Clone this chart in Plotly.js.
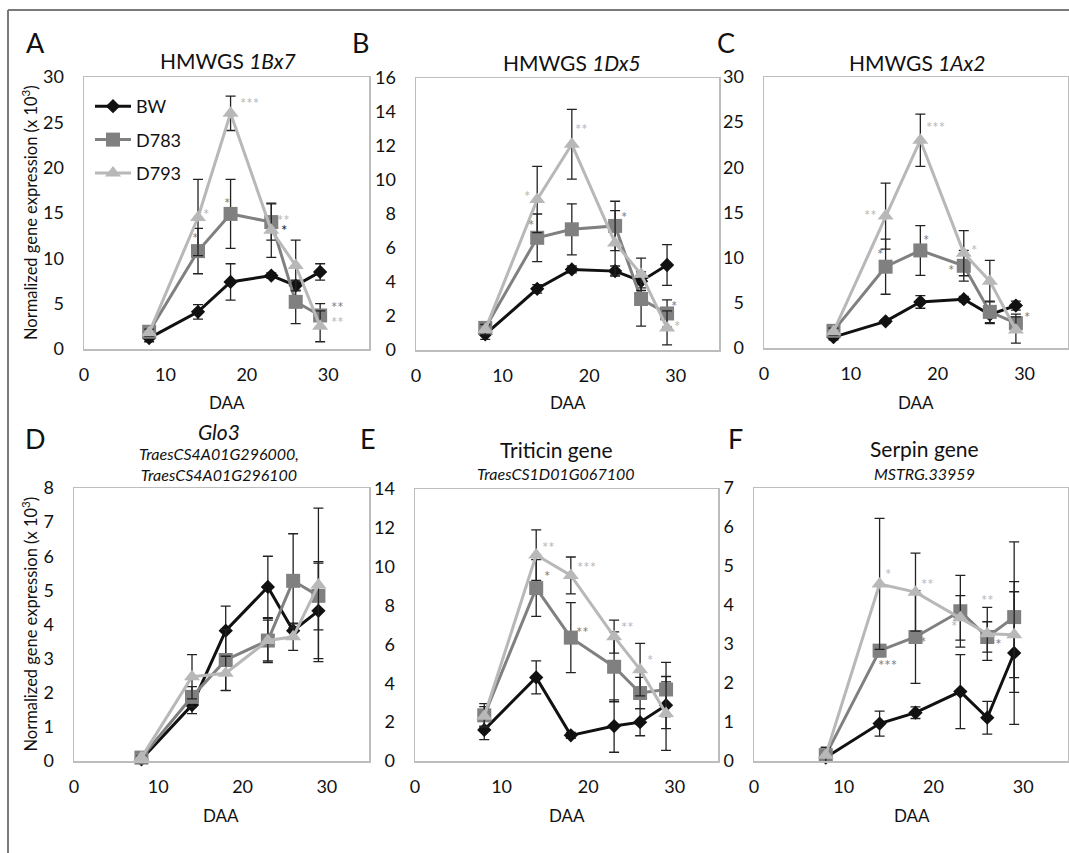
<!DOCTYPE html>
<html>
<head>
<meta charset="utf-8">
<script src="https://cdn.plot.ly/plotly-3.0.1.min.js"></script>
<style>
  html, body { margin: 0; padding: 0; background: #fff; }
  #chart { width: 1069px; height: 853px; }
</style>
</head>
<body>
<div id="chart"></div>
<script>
// Sampling days (days after anthesis)
const daa = [8, 14, 18, 23, 26, 29];
const seriesNames = ['BW', 'D783', 'D793'];

// Panel A: HMWGS 1Bx7
const a_BW = [1.2, 4.1, 7.4, 8.1, 7.0, 8.5];
const a_BW_err = [0.4, 0.8, 2.0, 0.3, 0.5, 0.9];
const a_D783 = [1.9, 10.8, 14.9, 14.0, 5.2, 3.7];
const a_D783_err = [0.5, 2.5, 3.8, 2.0, 2.4, 1.3];
const a_D793 = [1.8, 14.5, 26.0, 13.1, 9.2, 2.5];
const a_D793_err = [0.4, 4.2, 1.9, 3.0, 2.8, 1.7];

// Panel B: HMWGS 1Dx5
const b_BW = [0.92, 3.6, 4.74, 4.64, 4.05, 5.0];
const b_BW_err = [0.3, 0.25, 0.2, 0.3, 0.4, 1.2];
const b_D783 = [1.3, 6.6, 7.1, 7.3, 3.0, 2.15];
const b_D783_err = [0.3, 1.4, 1.5, 1.45, 1.6, 0.8];
const b_D793 = [1.2, 8.85, 12.1, 6.3, 4.45, 1.3];
const b_D793_err = [0.3, 1.95, 2.05, 1.9, 0.95, 1.0];

// Panel C: HMWGS 1Ax2
const c_BW = [1.2, 2.95, 5.1, 5.4, 3.7, 4.7];
const c_BW_err = [0.3, 0.2, 0.7, 0.3, 1.0, 0.5];
const c_D783 = [1.9, 9.0, 10.8, 9.1, 4.0, 2.75];
const c_D783_err = [0.6, 3.05, 2.75, 1.7, 1.2, 1.0];
const c_D793 = [1.8, 14.6, 23.0, 10.5, 7.4, 2.0];
const c_D793_err = [0.4, 3.65, 2.9, 2.5, 2.3, 1.45];

// Panel D: Glo3
const d_BW = [0.05, 1.64, 3.82, 5.1, 3.82, 4.4];
const d_BW_err = [0.05, 0.25, 0.72, 0.9, 0.2, 1.4];
const d_D783 = [0.1, 1.88, 2.96, 3.53, 5.28, 4.84];
const d_D783_err = [0.05, 0.3, 0.9, 0.65, 1.38, 1.0];
const d_D793 = [0.1, 2.47, 2.57, 3.53, 3.64, 5.16];
const d_D793_err = [0.05, 0.65, 0.5, 0.6, 0.4, 2.25];

// Panel E: Triticin gene
const e_BW = [1.6, 4.3, 1.32, 1.8, 2.0, 2.87];
const e_BW_err = [0.5, 0.85, 0.15, 1.35, 0.7, 1.2];
const e_D783 = [2.35, 8.9, 6.35, 4.85, 3.5, 3.68];
const e_D783_err = [0.6, 1.46, 1.8, 1.8, 0.8, 1.4];
const e_D793 = [2.3, 10.6, 9.55, 6.4, 4.7, 2.45];
const e_D793_err = [0.5, 1.3, 0.95, 0.85, 1.35, 1.9];

// Panel F: Serpin gene
const f_BW = [0.09, 0.96, 1.24, 1.78, 1.11, 2.77];
const f_BW_err = [0.1, 0.32, 0.15, 0.95, 0.42, 1.83];
const f_D783 = [0.15, 2.83, 3.18, 3.84, 3.18, 3.69];
const f_D783_err = [0.2, 0.15, 1.19, 0.92, 0.39, 1.93];
const f_D793 = [0.15, 4.54, 4.33, 3.67, 3.26, 3.24];
const f_D793_err = [0.2, 1.68, 1.0, 0.57, 0.68, 1.1];

// Significance marks: x, y, text, series index (0 BW, 1 D783, 2 D793)
const a_sigX = [20.3, 15.0, 13.6, 17.5, 24.5, 24.6, 31.1, 31.1];
const a_sigY = [27.1, 14.9, 12.2, 16.1, 14.25, 13.1, 4.65, 3.0];
const a_sigT = ['***', '*', '*', '*', '**', '*', '**', '**'];
const a_sigS = [2, 2, 1, 1, 2, 0, 1, 2];

const b_sigX = [19.1, 12.8, 13.3, 24.0, 29.8, 30.2];
const b_sigY = [13.0, 9.05, 7.35, 7.8, 2.6, 1.4];
const b_sigT = ['**', '*', '*', '*', '*', '*'];
const b_sigS = [2, 2, 1, 1, 1, 2];

const c_sigX = [19.7, 12.3, 13.3, 18.6, 24.2, 21.5, 30.3];
const c_sigY = [24.5, 14.7, 10.4, 11.9, 10.8, 8.6, 3.4];
const c_sigT = ['***', '**', '*', '*', '*', '*', '*'];
const c_sigS = [2, 2, 1, 1, 2, 1, 1];

const d_sigX = [];
const d_sigY = [];
const d_sigT = [];
const d_sigS = [];

const e_sigX = [15.4, 15.3, 19.8, 19.4, 24.6, 27.2];
const e_sigY = [11.0, 9.5, 10.0, 6.65, 6.9, 5.2];
const e_sigT = ['**', '*', '***', '**', '**', '*'];
const e_sigS = [2, 1, 2, 1, 2, 2];

const f_sigX = [14.9, 14.9, 19.3, 18.8, 22.3, 26.0, 26.9];
const f_sigY = [4.8, 2.47, 4.55, 3.04, 3.45, 4.14, 3.0];
const f_sigT = ['*', '***', '**', '*', '*', '**', '**'];
const f_sigS = [2, 1, 2, 1, 2, 2, 1];

// Axis tick settings
const xTicks = [0, 10, 20, 30];
const yMax = [30, 16, 30, 8, 14, 7];
const yStep = [5, 2, 5, 1, 2, 1];

// Panel captions
const panelLetters = ['A', 'B', 'C', 'D', 'E', 'F'];
const panelTitles = ['HMWGS <i>1Bx7</i>', 'HMWGS <i>1Dx5</i>', 'HMWGS <i>1Ax2</i>',
                     '<i>Glo3</i>', 'Triticin gene', 'Serpin gene'];
const panelSubtitles = ['', '', '',
                        '<i>TraesCS4A01G296000,</i><br><i>TraesCS4A01G296100</i>',
                        '<i>TraesCS1D01G067100</i>', '<i>MSTRG.33959</i>'];
const xTitle = 'DAA';
const yTitle = 'Normalized gene expression (x 10<sup>3</sup>)';

const W = 1069, H = 853;
// plot boxes in pixels: [left, right, top, bottom]
const boxes = [
  [84, 369, 77, 349],
  [416, 719, 78, 350],
  [764, 1068, 77, 348],
  [74, 369, 488, 761],
  [415, 718, 489, 761],
  [754, 1068, 488, 761]
];

const colors = ['#111111', '#808080', '#b8b8b8'];
const symbols = ['diamond', 'square', 'triangle-up'];
const sizes = [11, 14, 14];

const panelData = [
  [[a_BW, a_BW_err], [a_D783, a_D783_err], [a_D793, a_D793_err]],
  [[b_BW, b_BW_err], [b_D783, b_D783_err], [b_D793, b_D793_err]],
  [[c_BW, c_BW_err], [c_D783, c_D783_err], [c_D793, c_D793_err]],
  [[d_BW, d_BW_err], [d_D783, d_D783_err], [d_D793, d_D793_err]],
  [[e_BW, e_BW_err], [e_D783, e_D783_err], [e_D793, e_D793_err]],
  [[f_BW, f_BW_err], [f_D783, f_D783_err], [f_D793, f_D793_err]]
];
const panelSig = [
  [a_sigX, a_sigY, a_sigT, a_sigS],
  [b_sigX, b_sigY, b_sigT, b_sigS],
  [c_sigX, c_sigY, c_sigT, c_sigS],
  [d_sigX, d_sigY, d_sigT, d_sigS],
  [e_sigX, e_sigY, e_sigT, e_sigS],
  [f_sigX, f_sigY, f_sigT, f_sigS]
];

const FONT = 'Lato, "Open Sans", sans-serif';
const traces = [];
const annotations = [];
const layout = {
  width: W, height: H,
  margin: {l: 0, r: 0, t: 0, b: 0},
  paper_bgcolor: '#ffffff',
  plot_bgcolor: '#ffffff',
  font: {family: FONT, color: '#111', size: 18},
  showlegend: true,
  legend: {
    x: 90 / W, y: 1 - 88 / H, xanchor: 'left', yanchor: 'top',
    bgcolor: 'rgba(0,0,0,0)', font: {size: 18, color: '#111', family: FONT},
    tracegroupgap: 7, itemwidth: 36
  },
  shapes: [
    {type: 'line', xref: 'paper', yref: 'paper', x0: 8 / W, x1: 1, y0: 1 - 10 / H, y1: 1 - 10 / H,
     line: {color: '#7a7a7a', width: 2}},
    {type: 'line', xref: 'paper', yref: 'paper', x0: 8 / W, x1: 8 / W, y0: 0, y1: 1 - 10 / H,
     line: {color: '#7a7a7a', width: 2}}
  ],
  annotations: annotations
};

// centred text label in paper pixels
function paperText(px, py, text, size, extra) {
  return Object.assign({
    xref: 'paper', yref: 'paper', x: px / W, y: 1 - py / H,
    xanchor: 'center', yanchor: 'middle',
    text: text, showarrow: false, font: {size: size, color: '#111', family: FONT}
  }, extra || {});
}

panelData.forEach((panel, p) => {
  const ax = p === 0 ? '' : String(p + 1);
  const [l, r, t, b] = boxes[p];
  layout['xaxis' + ax] = {
    domain: [l / W, r / W], range: [0, 35], anchor: 'y' + ax,
    tickvals: xTicks, showgrid: false, zeroline: false,
    showline: true, mirror: true, linecolor: '#bdbdbd', linewidth: 1.5,
    ticks: 'outside', ticklen: 9, tickcolor: 'rgba(0,0,0,0)',
    tickfont: {size: 18, color: '#111', family: FONT}, fixedrange: true
  };
  const yv = [];
  for (let v = 0; v <= yMax[p]; v += yStep[p]) yv.push(v);
  layout['yaxis' + ax] = {
    domain: [1 - b / H, 1 - t / H], range: [0, yMax[p]], anchor: 'x' + ax,
    tickvals: yv, showgrid: false, zeroline: false,
    showline: true, mirror: true, linecolor: '#bdbdbd', linewidth: 1.5,
    ticks: 'outside', ticklen: 15, tickcolor: 'rgba(0,0,0,0)',
    tickfont: {size: 18, color: '#111', family: FONT}, fixedrange: true
  };

  panel.forEach(([vals, errs], s) => {
    traces.push({
      type: 'scatter', mode: 'lines+markers',
      x: daa, y: vals, name: seriesNames[s],
      xaxis: 'x' + ax, yaxis: 'y' + ax,
      legendgroup: seriesNames[s], showlegend: p === 0,
      cliponaxis: false,
      line: {color: colors[s], width: 3},
      marker: {symbol: symbols[s], size: sizes[s], color: colors[s], line: {width: 0}},
      error_y: {type: 'data', array: errs, visible: true, color: '#222', thickness: 1.3, width: 5}
    });
  });

  // significance stars
  const [sx, sy, st, ss] = panelSig[p];
  sx.forEach((x, i) => {
    annotations.push({
      xref: 'x' + ax, yref: 'y' + ax, x: x, y: sy[i], text: st[i],
      xanchor: 'center', yanchor: 'middle',
      showarrow: false, font: {size: 15, color: colors[ss[i]], family: FONT}
    });
  });

  // panel letter
  const letterX = [35, 360, 726, 35, 368, 735][p];
  const letterY = [43, 43, 43, 438, 438, 438][p];
  annotations.push(paperText(letterX, letterY, panelLetters[p], 27));

  // title
  const titleX = [228, 572, 917, 219, 556, 924][p];
  const titleY = [61, 62, 62, 432, 450, 449][p];
  annotations.push(paperText(titleX, titleY, panelTitles[p], 21));
  if (panelSubtitles[p]) {
    const subY = [0, 0, 0, 464, 473, 473][p];
    annotations.push(paperText(titleX, subY, panelSubtitles[p], 16));
  }

  // x axis title
  const daaX = [227, 568, 916, 221, 567, 912][p];
  const daaY = p < 3 ? 403 : 815;
  annotations.push(paperText(daaX, daaY, xTitle, 17));

  // y axis title on the left column
  if (p === 0 || p === 3) {
    annotations.push(paperText(30, (t + b) / 2, yTitle, 16.5, {textangle: -90}));
  }
});

Plotly.newPlot('chart', traces, layout, {staticPlot: true, displayModeBar: false});
</script>
</body>
</html>
